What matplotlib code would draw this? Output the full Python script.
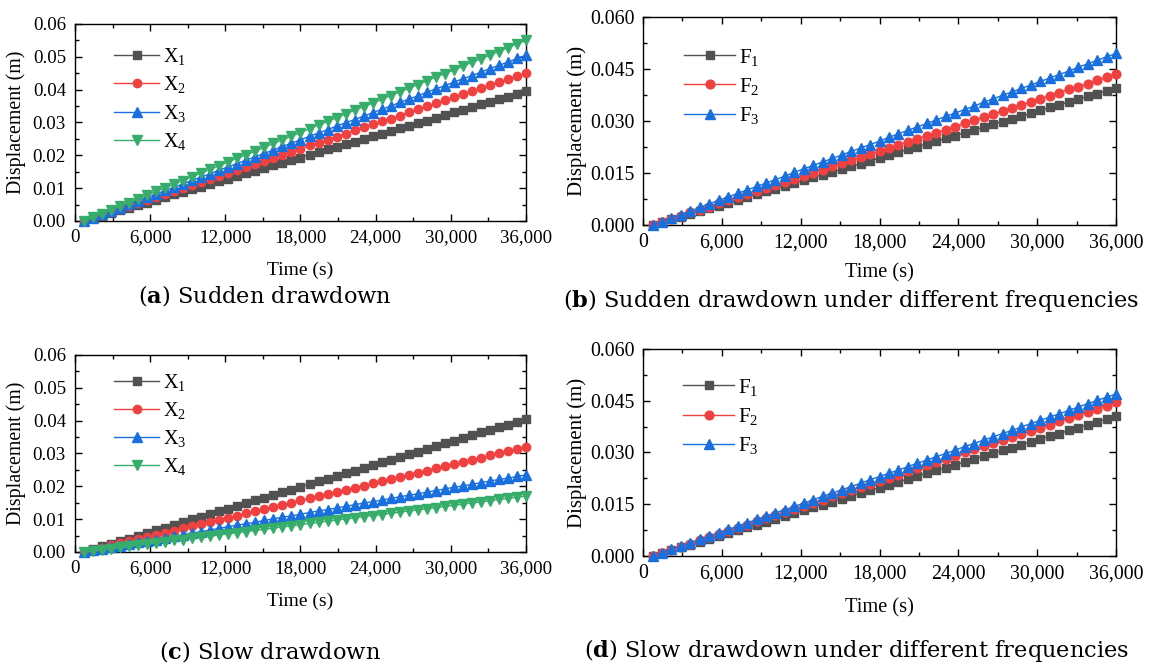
import matplotlib

matplotlib.use("Agg")
import matplotlib.pyplot as plt  # noqa: E402
from matplotlib.ticker import FuncFormatter, MultipleLocator  # noqa: E402

plt.rcParams["font.family"] = ["Liberation Serif", "DejaVu Serif"]
plt.rcParams["mathtext.fontset"] = "custom"
plt.rcParams["mathtext.default"] = "regular"
plt.rcParams["mathtext.bf"] = "DejaVu Serif:bold"

# time axis (s)
TIME_S = [720, 1440, 2160, 2880, 3600, 4320, 5040, 5760, 6480, 7200,
          7920, 8640, 9360, 10080, 10800, 11520, 12240, 12960, 13680, 14400,
          15120, 15840, 16560, 17280, 18000, 18720, 19440, 20160, 20880, 21600,
          22320, 23040, 23760, 24480, 25200, 25920, 26640, 27360, 28080, 28800,
          29520, 30240, 30960, 31680, 32400, 33120, 33840, 34560, 35280, 36000]

# displacements in mm
# (a) sudden drawdown, positions X1..X4
A_X1 = [0.0, 0.8, 1.6, 2.4, 3.2, 4.0, 4.8, 5.6, 6.4, 7.3,
        8.1, 8.9, 9.7, 10.5, 11.3, 12.1, 12.9, 13.7, 14.5, 15.3,
        16.1, 16.9, 17.7, 18.5, 19.3, 20.2, 21.0, 21.8, 22.6, 23.4,
        24.2, 25.0, 25.8, 26.6, 27.4, 28.2, 29.0, 29.8, 30.6, 31.4,
        32.2, 33.1, 33.9, 34.7, 35.5, 36.3, 37.1, 37.9, 38.7, 39.5]
A_X2 = [0.0, 0.9, 1.8, 2.8, 3.7, 4.6, 5.5, 6.4, 7.3, 8.3,
        9.2, 10.1, 11.0, 11.9, 12.9, 13.8, 14.7, 15.6, 16.5, 17.4,
        18.4, 19.3, 20.2, 21.1, 22.0, 23.0, 23.9, 24.8, 25.7, 26.6,
        27.6, 28.5, 29.4, 30.3, 31.2, 32.1, 33.1, 34.0, 34.9, 35.8,
        36.7, 37.7, 38.6, 39.5, 40.4, 41.3, 42.2, 43.2, 44.1, 45.0]
A_X3 = [0.0, 1.0, 2.1, 3.1, 4.1, 5.2, 6.2, 7.2, 8.2, 9.3,
        10.3, 11.3, 12.4, 13.4, 14.4, 15.5, 16.5, 17.5, 18.6, 19.6,
        20.6, 21.6, 22.7, 23.7, 24.7, 25.8, 26.8, 27.8, 28.9, 29.9,
        30.9, 31.9, 33.0, 34.0, 35.0, 36.1, 37.1, 38.1, 39.2, 40.2,
        41.2, 42.3, 43.3, 44.3, 45.3, 46.4, 47.4, 48.4, 49.5, 50.5]
A_X4 = [0.0, 1.1, 2.2, 3.4, 4.5, 5.6, 6.7, 7.9, 9.0, 10.1,
        11.2, 12.3, 13.5, 14.6, 15.7, 16.8, 18.0, 19.1, 20.2, 21.3,
        22.4, 23.6, 24.7, 25.8, 26.9, 28.1, 29.2, 30.3, 31.4, 32.6,
        33.7, 34.8, 35.9, 37.0, 38.2, 39.3, 40.4, 41.5, 42.7, 43.8,
        44.9, 46.0, 47.1, 48.3, 49.4, 50.5, 51.6, 52.8, 53.9, 55.0]

# (b) sudden drawdown, frequencies F1..F3
B_F1 = A_X1
B_F2 = [0.0, 0.9, 1.8, 2.7, 3.6, 4.4, 5.3, 6.2, 7.1, 8.0,
        8.9, 9.8, 10.7, 11.5, 12.4, 13.3, 14.2, 15.1, 16.0, 16.9,
        17.8, 18.6, 19.5, 20.4, 21.3, 22.2, 23.1, 24.0, 24.9, 25.7,
        26.6, 27.5, 28.4, 29.3, 30.2, 31.1, 32.0, 32.8, 33.7, 34.6,
        35.5, 36.4, 37.3, 38.2, 39.1, 39.9, 40.8, 41.7, 42.6, 43.5]
B_F3 = [0.0, 1.0, 2.0, 3.0, 4.0, 5.1, 6.1, 7.1, 8.1, 9.1,
        10.1, 11.1, 12.1, 13.1, 14.1, 15.2, 16.2, 17.2, 18.2, 19.2,
        20.2, 21.2, 22.2, 23.2, 24.2, 25.3, 26.3, 27.3, 28.3, 29.3,
        30.3, 31.3, 32.3, 33.3, 34.3, 35.4, 36.4, 37.4, 38.4, 39.4,
        40.4, 41.4, 42.4, 43.4, 44.4, 45.5, 46.5, 47.5, 48.5, 49.5]

# (c) slow drawdown, positions X1..X4
C_X1 = [0.0, 0.8, 1.7, 2.5, 3.3, 4.1, 5.0, 5.8, 6.6, 7.4,
        8.3, 9.1, 9.9, 10.7, 11.6, 12.4, 13.2, 14.1, 14.9, 15.7,
        16.5, 17.4, 18.2, 19.0, 19.8, 20.7, 21.5, 22.3, 23.1, 24.0,
        24.8, 25.6, 26.4, 27.3, 28.1, 28.9, 29.8, 30.6, 31.4, 32.2,
        33.1, 33.9, 34.7, 35.5, 36.4, 37.2, 38.0, 38.8, 39.7, 40.5]
C_X2 = [0.0, 0.7, 1.3, 2.0, 2.6, 3.3, 3.9, 4.6, 5.2, 5.9,
        6.5, 7.2, 7.8, 8.5, 9.1, 9.8, 10.4, 11.1, 11.8, 12.4,
        13.1, 13.7, 14.4, 15.0, 15.7, 16.3, 17.0, 17.6, 18.3, 18.9,
        19.6, 20.2, 20.9, 21.6, 22.2, 22.9, 23.5, 24.2, 24.8, 25.5,
        26.1, 26.8, 27.4, 28.1, 28.7, 29.4, 30.0, 30.7, 31.3, 32.0]
C_X3 = [0.0, 0.5, 1.0, 1.4, 1.9, 2.4, 2.9, 3.4, 3.8, 4.3,
        4.8, 5.3, 5.8, 6.2, 6.7, 7.2, 7.7, 8.2, 8.6, 9.1,
        9.6, 10.1, 10.6, 11.0, 11.5, 12.0, 12.5, 12.9, 13.4, 13.9,
        14.4, 14.9, 15.3, 15.8, 16.3, 16.8, 17.3, 17.7, 18.2, 18.7,
        19.2, 19.7, 20.1, 20.6, 21.1, 21.6, 22.1, 22.5, 23.0, 23.5]
C_X4 = [0.0, 0.3, 0.7, 1.0, 1.4, 1.7, 2.1, 2.4, 2.8, 3.1,
        3.5, 3.8, 4.2, 4.5, 4.9, 5.2, 5.6, 5.9, 6.2, 6.6,
        6.9, 7.3, 7.6, 8.0, 8.3, 8.7, 9.0, 9.4, 9.7, 10.1,
        10.4, 10.8, 11.1, 11.4, 11.8, 12.1, 12.5, 12.8, 13.2, 13.5,
        13.9, 14.2, 14.6, 14.9, 15.3, 15.6, 16.0, 16.3, 16.7, 17.0]

# (d) slow drawdown, frequencies F1..F3
D_F1 = C_X1
D_F2 = [0.0, 0.9, 1.8, 2.7, 3.6, 4.5, 5.4, 6.4, 7.3, 8.2,
        9.1, 10.0, 10.9, 11.8, 12.7, 13.6, 14.5, 15.4, 16.3, 17.3,
        18.2, 19.1, 20.0, 20.9, 21.8, 22.7, 23.6, 24.5, 25.4, 26.3,
        27.2, 28.2, 29.1, 30.0, 30.9, 31.8, 32.7, 33.6, 34.5, 35.4,
        36.3, 37.2, 38.1, 39.1, 40.0, 40.9, 41.8, 42.7, 43.6, 44.5]
D_F3 = [0.0, 1.0, 1.9, 2.9, 3.8, 4.8, 5.8, 6.7, 7.7, 8.6,
        9.6, 10.6, 11.5, 12.5, 13.4, 14.4, 15.3, 16.3, 17.3, 18.2,
        19.2, 20.1, 21.1, 22.1, 23.0, 24.0, 24.9, 25.9, 26.9, 27.8,
        28.8, 29.7, 30.7, 31.7, 32.6, 33.6, 34.5, 35.5, 36.4, 37.4,
        38.4, 39.3, 40.3, 41.2, 42.2, 43.2, 44.1, 45.1, 46.0, 47.0]

X_LABELS = ["X$_1$", "X$_2$", "X$_3$", "X$_4$"]
F_LABELS = ["F$_1$", "F$_2$", "F$_3$"]
CAPTIONS = [r"($\mathbf{a}$) Sudden drawdown",
            r"($\mathbf{b}$) Sudden drawdown under different frequencies",
            r"($\mathbf{c}$) Slow drawdown",
            r"($\mathbf{d}$) Slow drawdown under different frequencies"]

COLORS = ["#515151", "#F14040", "#1A6FDF", "#37AD6B"]
MARKERS = [("s", 5.4), ("o", 6.0), ("^", 7.0), ("v", 7.0)]


def draw(ax, series, labels, ystep, yfmt, s, leg_xy, leg_sp, hl, xpad, ypad):
    # s scales the fonts: the right-hand panels were pasted a little larger
    for k, (ys, lab) in enumerate(zip(series, labels)):
        mk, ms = MARKERS[k]
        ax.plot(TIME_S, [v / 1000 for v in ys], marker=mk, ms=ms * s,
                color=COLORS[k], lw=1.0, label=lab, clip_on=False, zorder=3)
    ax.set_xlim(0, 36000)
    ax.set_ylim(0, 0.06)
    ax.xaxis.set_major_locator(MultipleLocator(6000))
    ax.xaxis.set_minor_locator(MultipleLocator(3000))
    ax.yaxis.set_major_locator(MultipleLocator(ystep))
    ax.yaxis.set_minor_locator(MultipleLocator(ystep / 2))
    ax.xaxis.set_major_formatter(FuncFormatter(lambda v, p: f"{v:,.0f}"))
    ax.yaxis.set_major_formatter(FuncFormatter(lambda v, p: yfmt.format(v)))
    ax.tick_params(which="both", direction="in", top=True, right=True,
                   labelsize=13.6 * s, width=1.0)
    ax.tick_params(axis="y", pad=6.5 / s)
    ax.tick_params(axis="x", pad=6.0)
    ax.tick_params(which="major", length=5)
    ax.tick_params(which="minor", length=3)
    for sp in ax.spines.values():
        sp.set_linewidth(1.0)
    ax.set_xlabel("Time (s)", fontsize=14 * s, labelpad=xpad)
    ax.set_ylabel("Displacement (m)", fontsize=14.3 * s, labelpad=ypad)
    ax.legend(loc="upper left", bbox_to_anchor=leg_xy, frameon=False,
              fontsize=14.5 * s, handlelength=hl, handletextpad=0.2,
              labelspacing=leg_sp, borderaxespad=0)


fig = plt.figure(figsize=(11.52, 6.66), dpi=100)
ax_a = fig.add_axes([0.0651, 0.6682, 0.3915, 0.2958])
ax_b = fig.add_axes([0.5582, 0.6622, 0.4106, 0.3123])
ax_c = fig.add_axes([0.0651, 0.1712, 0.3915, 0.2958])
ax_d = fig.add_axes([0.5582, 0.1652, 0.4106, 0.3108])

draw(ax_a, [A_X1, A_X2, A_X3, A_X4], X_LABELS, 0.01, "{:.2f}", 1.0,
     (0.069, 0.928), 0.36, 2.24, 11, 5)
draw(ax_b, [B_F1, B_F2, B_F3], F_LABELS, 0.015, "{:.3f}", 1.05,
     (0.069, 0.897), 0.38, 2.4, 8, 2)
draw(ax_c, [C_X1, C_X2, C_X3, C_X4], X_LABELS, 0.01, "{:.2f}", 1.0,
     (0.069, 0.956), 0.36, 2.24, 11, 5)
draw(ax_d, [D_F1, D_F2, D_F3], F_LABELS, 0.015, "{:.3f}", 1.05,
     (0.067, 0.906), 0.38, 2.4, 11, 2)

cap_pos = [(265, 295), (851, 300), (270, 651), (857, 651)]
for (px, py), txt in zip(cap_pos, CAPTIONS):
    fig.text(px / 1152, 1 - py / 666, txt, ha="center", va="center",
             fontsize=16.2, family=["DejaVu Serif"])

fig.savefig("out.png", dpi=100)
